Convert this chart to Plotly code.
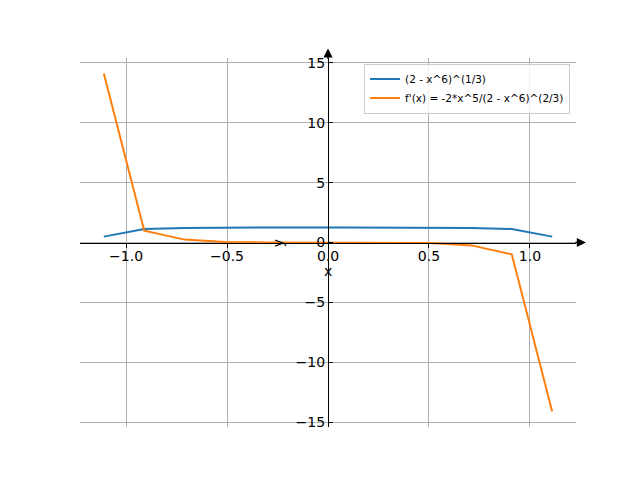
import plotly.graph_objects as go

# sample points
x_vals = [-1.11, -0.91, -0.71, -0.51, -0.30, -0.10, 0.10, 0.30, 0.51, 0.71, 0.91, 1.11]
f_vals = [0.49, 1.13, 1.22, 1.25, 1.26, 1.26, 1.26, 1.26, 1.25, 1.22, 1.13, 0.49]
df_vals = [14.1, 0.99, 0.24, 0.04, 0.003, 0.0, -0.0, -0.003, -0.04, -0.24, -0.99, -14.1]

x_ticks = [-1.0, -0.5, 0.0, 0.5, 1.0]
y_ticks = [-15, -10, -5, 0, 5, 10, 15]

FONT = "DejaVu Sans"

fig = go.Figure()
fig.add_trace(go.Scatter(x=x_vals, y=f_vals, mode='lines', name='(2 - x^6)^(1/3)',
                         line=dict(color='#1f77b4', width=2)))
fig.add_trace(go.Scatter(x=x_vals, y=df_vals, mode='lines', name="f'(x) = -2*x^5/(2 - x^6)^(2/3)",
                         line=dict(color='#ff7f0e', width=2)))

# page body adds 8px, so margins are shifted to keep the plot area in place
fig.update_layout(
    width=640, height=480,
    margin=dict(l=72, r=72, t=49.6, b=60.8),
    plot_bgcolor='white', paper_bgcolor='white',
    font=dict(family=FONT, size=14, color='black'),
    showlegend=True,
    legend=dict(x=0.988, y=0.985, xanchor='right', yanchor='top',
                bgcolor='rgba(255,255,255,0.8)', bordercolor='#cccccc', borderwidth=1,
                font=dict(size=10.5, family=FONT), itemwidth=30,
                tracegroupgap=0),
)

fig.update_xaxes(
    range=[-1.228, 1.228], anchor='free', position=0.5, side='bottom',
    tickvals=x_ticks, tickformat='.1f', ticklabelstandoff=-3,
    showline=True, linecolor='black', linewidth=1.3,
    ticks='outside', ticklen=4, tickcolor='black', tickwidth=1,
    showgrid=True, gridcolor='#b0b0b0', gridwidth=1.1, zeroline=False,
)
fig.update_yaxes(
    range=[-15.4, 15.4], anchor='free', position=0.5, side='left',
    tickvals=y_ticks,
    showline=True, linecolor='black', linewidth=1.3,
    ticks='inside', ticklen=4, tickcolor='black', tickwidth=1,
    showgrid=True, gridcolor='#b0b0b0', gridwidth=1.1, zeroline=False,
)

# arrow heads on the centred spines
fig.add_annotation(x=1.02, xref='paper', y=0, yref='y', ax=-12, ay=0,
                   showarrow=True, arrowhead=2, arrowsize=1.4, arrowwidth=1.3,
                   arrowcolor='black', text='')
fig.add_annotation(x=0, xref='x', y=1.026, yref='paper', ax=0, ay=12,
                   showarrow=True, arrowhead=2, arrowsize=1.4, arrowwidth=1.3,
                   arrowcolor='black', text='')

# axis labels
fig.add_annotation(x=0, xref='x', y=-2.4, yref='y', text='x', showarrow=False,
                   font=dict(size=14, family=FONT))
fig.add_annotation(x=-0.25, xref='x', y=-0.1, yref='y', text='y', showarrow=False,
                   textangle=-90, font=dict(size=14, family=FONT))

fig.write_html("out.html")
